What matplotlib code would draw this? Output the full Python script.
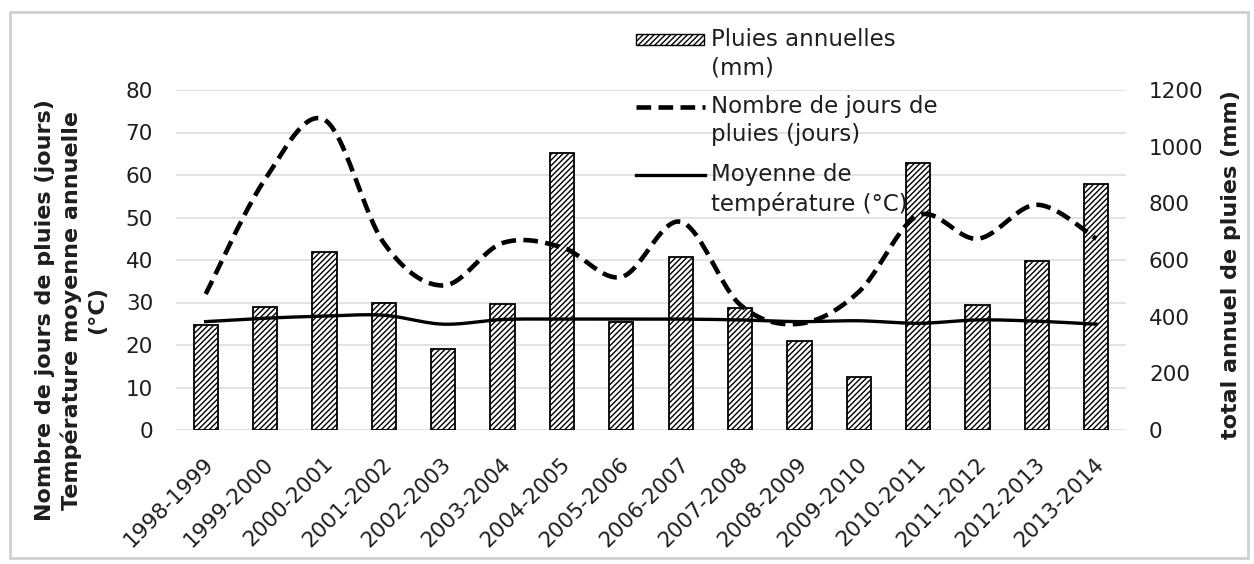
import numpy as np
import matplotlib.pyplot as plt
from matplotlib.lines import Line2D
from matplotlib.patches import Rectangle
from matplotlib.transforms import ScaledTranslation

# ---- Data ----
seasons = ["1998-1999", "1999-2000", "2000-2001", "2001-2002", "2002-2003",
           "2003-2004", "2004-2005", "2005-2006", "2006-2007", "2007-2008",
           "2008-2009", "2009-2010", "2010-2011", "2011-2012", "2012-2013",
           "2013-2014"]
pluies_mm   = [370, 435, 629, 449, 286, 445, 976, 382, 609, 429, 314, 188, 941, 441, 597, 867]
jours_pluie = [32, 59, 73, 44, 34, 44, 43, 36, 49, 29.5, 25, 32.5, 50.5, 45, 53, 45]
temp_moy    = [25.5, 26.3, 26.8, 27.0, 24.9, 26.0, 26.1, 26.1, 26.1, 25.9, 25.5, 25.7, 25.1, 25.9, 25.6, 24.9]

left_ticks  = [0, 10, 20, 30, 40, 50, 60, 70, 80]
right_ticks = [0, 200, 400, 600, 800, 1000, 1200]

plt.rcParams["font.family"] = ["DejaVu Sans"]
plt.rcParams["hatch.linewidth"] = 1.0

W, H = 1254, 564
TXT = "#1e1e1e"


def fx(px):
    return px / W


def fy(py):
    return 1 - py / H


def smooth(xs, ys, n=24):
    # Excel-like smoothed line: cubic Bezier with Catmull-Rom control points
    P = np.column_stack([xs, ys]).astype(float)
    P = np.vstack([P[0], P, P[-1]])
    out = []
    t = np.linspace(0, 1, n)[:, None]
    for i in range(1, len(P) - 2):
        p0, p1, p2, p3 = P[i - 1], P[i], P[i + 1], P[i + 2]
        c1 = p1 + (p2 - p0) / 6
        c2 = p2 - (p3 - p1) / 6
        seg = ((1 - t) ** 3) * p1 + 3 * ((1 - t) ** 2) * t * c1 + 3 * (1 - t) * t ** 2 * c2 + t ** 3 * p2
        out.append(seg if i == 1 else seg[1:])
    out = np.vstack(out)
    return out[:, 0], out[:, 1]


fig = plt.figure(figsize=(W / 100, H / 100), dpi=100)
ax = fig.add_axes([fx(176), fy(430), fx(1126) - fx(176), fy(90) - fy(430)])
ax2 = ax.twinx()

x = np.arange(len(seasons))

# bars on the rain-amount axis (right)
ax2.bar(x, pluies_mm, width=0.41, facecolor="white", edgecolor="black",
        linewidth=1.3, hatch="//////", zorder=2)

# lines on the left axis, drawn above bars
sx, sy = smooth(x, jours_pluie)
ax2.plot(sx, sy, transform=ax.transData, color="black", lw=3.3,
         dashes=(3.2, 1.6), dash_capstyle="butt", zorder=4)
tx, ty = smooth(x, temp_moy)
ax2.plot(tx, ty, transform=ax.transData, color="black", lw=2.4, zorder=4)

ax.set_xlim(-0.5, len(seasons) - 0.5)
ax.set_ylim(0, 80)
ax2.set_ylim(0, 1200)
ax.set_yticks(left_ticks)
ax2.set_yticks(right_ticks)
ax.yaxis.grid(True, color="#dedede", lw=1.2)
ax.set_axisbelow(True)

for a in (ax, ax2):
    for s in a.spines.values():
        s.set_visible(False)
    a.tick_params(length=0, labelsize=15.5, colors=TXT)
ax.tick_params(axis="y", pad=16.5)
ax2.tick_params(axis="y", pad=16.5)

ax.set_xticks(x)
ax.set_xticklabels(seasons, rotation=45, ha="right", va="center",
                   rotation_mode="anchor", fontsize=15.5)
ax.tick_params(axis="x", pad=22)
off = ScaledTranslation(0.05, 0, fig.dpi_scale_trans)
for lbl in ax.get_xticklabels():
    lbl.set_transform(lbl.get_transform() + off)

# axis titles
fig.text(fx(71), fy(310),
         "Nombre de jours de pluies (jours)\nTempérature moyenne annuelle\n(°C)",
         rotation=90, ha="center", va="center", multialignment="center",
         fontsize=16, fontweight="bold", linespacing=1.3, color=TXT)
fig.text(fx(1231), fy(265), "total annuel de pluies (mm)", rotation=90,
         ha="center", va="center", fontsize=16, fontweight="bold", color=TXT)

# legend drawn Excel-style (handle aligned with first text line)
leg_fs = 16.5
fig.add_artist(Rectangle((fx(636), fy(45)), fx(68), fy(34) - fy(45),
                         facecolor="white", edgecolor="black", lw=1.0,
                         hatch="//////", transform=fig.transFigure))
fig.add_artist(Line2D([fx(636), fx(705)], [fy(107), fy(107)], color="black",
                      lw=3.3, dashes=(3.2, 1.6), dash_capstyle="butt",
                      transform=fig.transFigure))
fig.add_artist(Line2D([fx(636), fx(705)], [fy(175), fy(175)], color="black",
                      lw=2.4, transform=fig.transFigure))
legend_labels = ["Pluies annuelles\n(mm)",
                 "Nombre de jours de\npluies (jours)",
                 "Moyenne de\ntempérature (°C)"]
for lab, yy in zip(legend_labels, [40, 107, 175]):
    fig.text(fx(711), fy(yy - 12), lab, ha="left", va="top", fontsize=leg_fs,
             linespacing=1.3, color=TXT)

# light frame around the whole chart
fig.add_artist(Rectangle((fx(10), fy(558)), fx(1248) - fx(10), fy(12) - fy(558),
                         facecolor="none", edgecolor="#d0d0d0", lw=2,
                         transform=fig.transFigure))

fig.savefig("out.png", dpi=100)
